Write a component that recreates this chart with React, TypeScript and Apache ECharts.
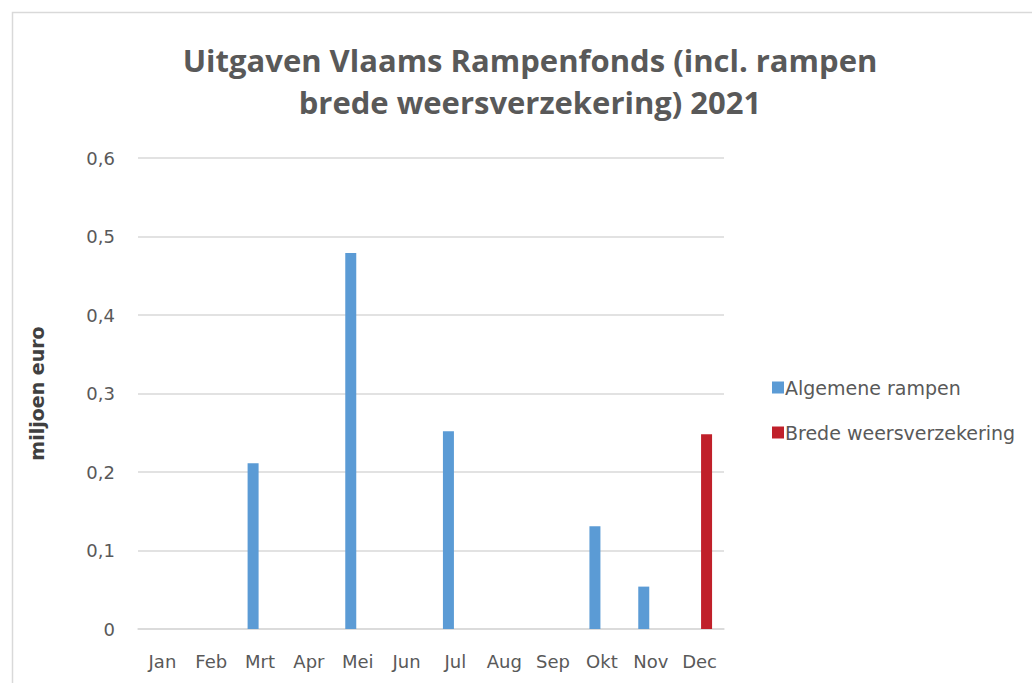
import React, { useEffect, useRef } from "react";
import * as echarts from "echarts";

const months = ["Jan", "Feb", "Mrt", "Apr", "Mei", "Jun", "Jul", "Aug", "Sep", "Okt", "Nov", "Dec"];
const algemeneRampen = [0, 0, 0.211, 0, 0.479, 0, 0.252, 0, 0, 0.131, 0.054, 0];
const bredeWeersverzekering = [0, 0, 0, 0, 0, 0, 0, 0, 0, 0, 0, 0.248];
const titleText = "Uitgaven Vlaams Rampenfonds (incl. rampen\nbrede weersverzekering) 2021";

export default function App() {
  const ref = useRef<HTMLDivElement>(null);
  useEffect(() => {
    if (!ref.current) return;
    const chart = echarts.init(ref.current, null, { renderer: "svg" });
    const titleFont = "'Open Sans', 'Noto Sans', sans-serif";
    const font = "'DejaVu Sans', sans-serif";
    chart.setOption({
      animation: false,
      textStyle: { fontFamily: font },
      title: {
        text: titleText,
        left: 530,
        textAlign: "center",
        top: 39,
        padding: 0,
        textStyle: {
          fontFamily: titleFont,
          fontSize: 31,
          fontWeight: "bold",
          color: "#595959",
          lineHeight: 42,
        },
      },
      graphic: [
        {
          type: "rect",
          shape: { x: 12.5, y: 12.5, width: 1040, height: 700 },
          style: { fill: "none", stroke: "#d9d9d9", lineWidth: 1.5 },
          silent: true,
        },
      ],
      legend: {
        orient: "vertical",
        left: 767,
        top: 373,
        itemWidth: 12,
        itemHeight: 12,
        itemGap: 26,
        icon: "rect",
        textStyle: { fontFamily: font, fontSize: 19, color: "#595959", padding: [0, 0, 0, -4] },
        data: ["Algemene rampen", "Brede weersverzekering"],
      },
      grid: { left: 138, right: 1032 - 724, top: 158, bottom: 683 - 629, containLabel: false },
      xAxis: {
        type: "category",
        data: months,
        axisLine: { lineStyle: { color: "#d9d9d9", width: 1.5 } },
        axisTick: { show: false },
        axisLabel: { fontFamily: font, fontSize: 18, color: "#595959", margin: 23 },
      },
      yAxis: {
        type: "value",
        min: 0,
        max: 0.6,
        interval: 0.1,
        name: "miljoen euro",
        nameLocation: "middle",
        nameGap: 92,
        nameTextStyle: { fontFamily: font, fontSize: 19, fontWeight: "bold", color: "#404040" },
        axisLine: { show: false },
        axisTick: { show: false },
        splitLine: { lineStyle: { color: "#d9d9d9", width: 1.5 } },
        axisLabel: {
          fontFamily: font,
          fontSize: 18,
          color: "#595959",
          margin: 23,
          formatter: (v: number) => (Math.round(v * 10) / 10).toString().replace(".", ","),
        },
      },
      series: [
        {
          name: "Algemene rampen",
          type: "bar",
          data: algemeneRampen,
          barWidth: 11,
          barGap: "27%",
          itemStyle: { color: "#5B9BD5" },
        },
        {
          name: "Brede weersverzekering",
          type: "bar",
          data: bredeWeersverzekering,
          barWidth: 11,
          barGap: "27%",
          itemStyle: { color: "#C0202A" },
        },
      ],
    });
    return () => chart.dispose();
  }, []);
  return (
    <div
      ref={ref}
      style={{ position: "absolute", left: 0, top: 0, width: 1032, height: 683, background: "#fff" }}
    />
  );
}
